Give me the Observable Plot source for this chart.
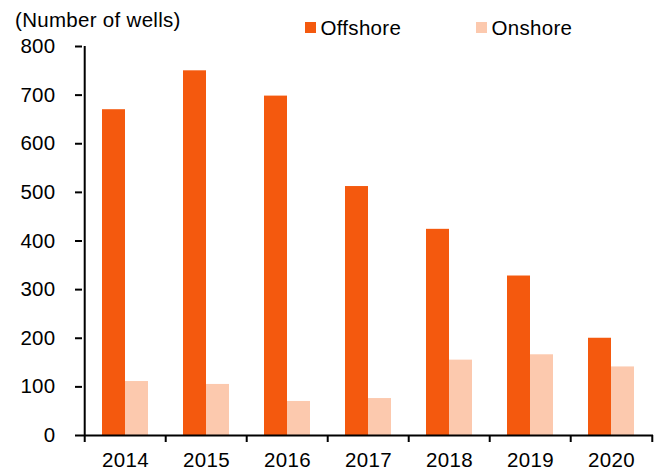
<!DOCTYPE html>
<html>
<head>
<meta charset="utf-8">
<script src="https://cdn.jsdelivr.net/npm/d3@7"></script>
<script src="https://cdn.jsdelivr.net/npm/@observablehq/plot@0.6"></script>
<style>
  html, body { margin: 0; padding: 0; background: #fff; }
  #wrap { position: relative; width: 661px; height: 473px; font-family: "Liberation Sans", Arial, sans-serif; color: #000; }
  .lbl { position: absolute; font-size: 20.5px; line-height: 20.5px; letter-spacing: 0.3px; white-space: nowrap; }
  .sw { position: absolute; width: 11px; height: 11px; }
</style>
</head>
<body>
<div id="wrap"></div>
<script>
const years = ["2014", "2015", "2016", "2017", "2018", "2019", "2020"];
const offshore = [670, 750, 698, 512, 424, 328, 200];
const onshore = [111, 105, 70, 76, 155, 166, 141];
const yTicks = [0, 100, 200, 300, 400, 500, 600, 700, 800];
const seriesNames = ["Offshore", "Onshore"];
const seriesColors = ["#F4590E", "#FCC9AE"];
const unitLabel = "(Number of wells)";

const W = 661, H = 473, mL = 82, mR = 8, mT = 46, mB = 38;
const step = (W - mL - mR) / years.length;
const barW = 23;
const pInner = 1 - (2 * barW) / step;

const data = years.map((y, i) => ({year: y, offshore: offshore[i], onshore: onshore[i]}));

const chart = Plot.plot({
  width: W, height: H,
  marginLeft: mL, marginRight: mR, marginTop: mT, marginBottom: mB,
  style: {fontFamily: '"Liberation Sans", Arial, sans-serif', fontSize: "20.5px", letterSpacing: "0.3px", color: "#000", background: "#fff"},
  x: {domain: years, paddingInner: pInner, paddingOuter: pInner / 2, label: null},
  y: {domain: [0, yTicks[yTicks.length - 1]], label: null},
  marks: [
    Plot.barY(data, {x: "year", y: "offshore", fill: seriesColors[0], insetRight: barW}),
    Plot.barY(data, {x: "year", y: "onshore", fill: seriesColors[1], insetLeft: barW}),
    Plot.ruleY([0], {stroke: "#000", strokeWidth: 2}),
    Plot.ruleX([years[0]], {y1: 0, y2: yTicks[yTicks.length - 1], dx: -step / 2, stroke: "#000", strokeWidth: 2}),
    Plot.ruleX(years, {x: d => d, y1: 0, y2: 0, insetBottom: -7, dx: -step / 2, stroke: "#000", strokeWidth: 2}),
    Plot.ruleX([years[years.length - 1]], {y1: 0, y2: 0, insetBottom: -7, dx: step / 2, stroke: "#000", strokeWidth: 2}),
    Plot.axisY({ticks: yTicks, tickSize: 7, tickPadding: 20, strokeWidth: 2, fontSize: 20.5, label: null, tickFormat: d => String(d)}),
    Plot.axisX({tickSize: 0, tickPadding: 17, fontSize: 20.5, label: null})
  ]
});

const wrap = document.getElementById("wrap");
wrap.appendChild(chart);

function addLabel(text, left, top) {
  const d = document.createElement("div");
  d.className = "lbl";
  d.textContent = text;
  d.style.left = left + "px";
  d.style.top = top + "px";
  wrap.appendChild(d);
}
function addSwatch(color, left, top) {
  const d = document.createElement("div");
  d.className = "sw";
  d.style.background = color;
  d.style.left = left + "px";
  d.style.top = top + "px";
  wrap.appendChild(d);
}
addLabel(unitLabel, 15, 10);
const legendX = [305, 476];
seriesNames.forEach((name, i) => {
  addSwatch(seriesColors[i], legendX[i], 22);
  addLabel(name, legendX[i] + 15.5, 17.5);
});
</script>
</body>
</html>
